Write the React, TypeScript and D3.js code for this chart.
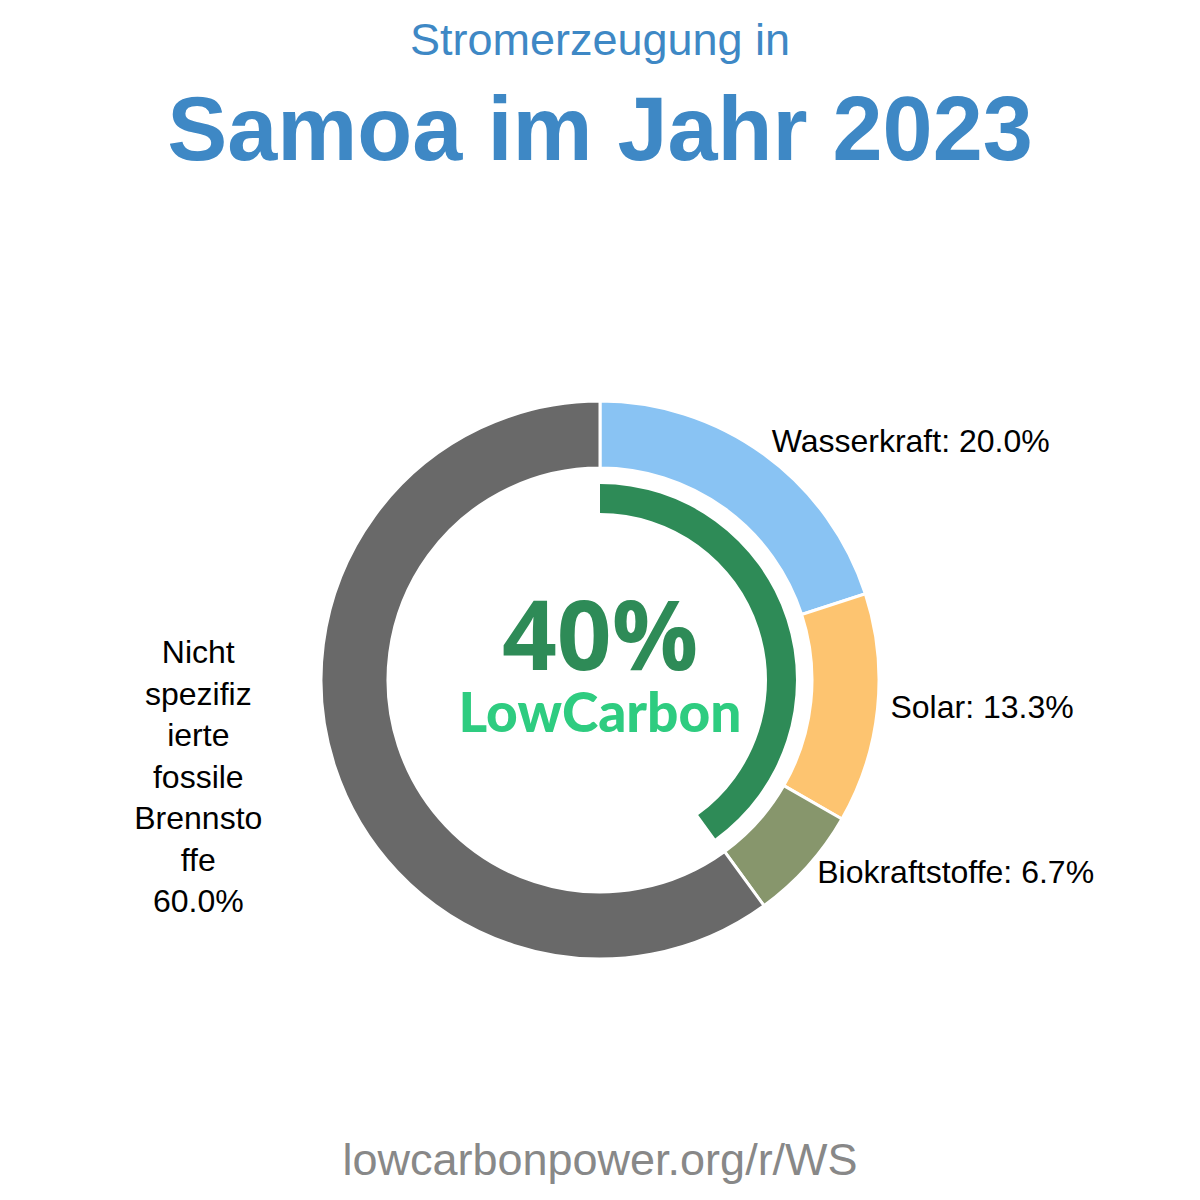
import React from "react";
import * as d3 from "d3";

const categories = ["Wasserkraft", "Solar", "Biokraftstoffe", "Nicht spezifizierte fossile Brennstoffe"];
const values = [20.0, 13.3, 6.7, 60.0];
const colors = ["#89c3f3", "#fdc470", "#87966c", "#696969"];
const lowCarbonShare = 40;
const fossilLines = ["Nicht", "spezifiz", "ierte", "fossile", "Brennsto", "ffe", "60.0%"];

const W = 1200;
const H = 1200;
const cx = 600;
const cy = 680;

export default function App() {
  const pie = d3.pie<number>().sort(null).value((d) => d);
  const arcs = pie(values);
  const arc = d3.arc<d3.PieArcDatum<number>>().innerRadius(212).outerRadius(279);
  const inner = d3
    .arc()
    .innerRadius(167)
    .outerRadius(196)
    .startAngle(0)
    .endAngle((lowCarbonShare / 100) * 2 * Math.PI);
  const labelR = 292;
  const font = "Liberation Sans, Arial, sans-serif";

  return (
    <svg width={W} height={H} style={{ display: "block", position: "absolute", left: 0, top: 0 }}>
      <rect width={W} height={H} fill="#ffffff" />
      <text x={cx} y={55} textAnchor="middle" fontFamily={font} fontSize={45} fill="#3e88c5">
        Stromerzeugung in
      </text>
      <text x={cx} y={160} textAnchor="middle" fontFamily={font} fontWeight="bold" fontSize={90} fill="#3e88c5">
        Samoa im Jahr 2023
      </text>
      <g transform={`translate(${cx},${cy})`}>
        {arcs.map((a, i) => (
          <path key={i} d={arc(a) || ""} fill={colors[i]} stroke="#ffffff" strokeWidth={3} />
        ))}
        <path d={(inner as any)() || ""} fill="#2e8b57" />
        {arcs.map((a, i) => {
          if (i === 3) return null;
          const m = (a.startAngle + a.endAngle) / 2;
          const x = Math.sin(m) * labelR;
          const y = -Math.cos(m) * labelR;
          return (
            <text key={i} x={x} y={y + 8} textAnchor="start" fontFamily={font} fontSize={32} fill="#000">
              {`${categories[i]}: ${values[i].toFixed(1)}%`}
            </text>
          );
        })}
        {(() => {
          const a = arcs[3];
          const m = (a.startAngle + a.endAngle) / 2;
          const x = Math.sin(m) * labelR - 124;
          const y = -Math.cos(m) * labelR;
          const lh = 41.5;
          return (
            <text textAnchor="middle" fontFamily={font} fontSize={32} fill="#000">
              {fossilLines.map((l, k) => (
                <tspan key={k} x={x} y={y + 17.5 + (k - 3) * lh}>
                  {l}
                </tspan>
              ))}
            </text>
          );
        })()}
        <text x={0} y={-10} textAnchor="middle" fontFamily="Open Sans, Lato, sans-serif" fontWeight="bold" fontSize={96} fill="#2e8b57">
          {`${lowCarbonShare}%`}
        </text>
        <text x={0} y={52} textAnchor="middle" fontFamily="Lato, Open Sans, sans-serif" fontWeight="900" fontSize={55} fill="#2ecc80">
          LowCarbon
        </text>
      </g>
      <text x={cx} y={1175} textAnchor="middle" fontFamily={font} fontSize={45} fill="#888888">
        lowcarbonpower.org/r/WS
      </text>
    </svg>
  );
}
